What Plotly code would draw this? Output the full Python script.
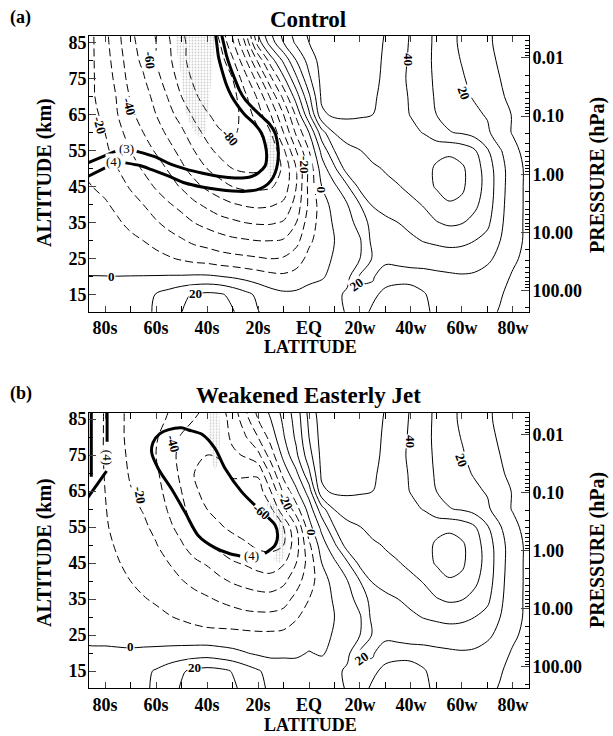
import numpy as np
import plotly.graph_objects as go

# ---------------- data ----------------
alt_km = [10, 15, 20, 25, 30, 35, 40, 45, 50, 55, 60, 65, 70, 75, 80, 85, 90]
lat_sh = [-90, -85, -80, -75, -70, -65, -60, -55, -50, -45, -40, -35, -30, -25, -20, -15, -10, -5, 0]
lat_nh = [5, 10, 15, 20, 25, 30, 35, 40, 45, 50, 55, 60, 65, 70, 75, 80, 85, 90]

# zonal wind (m/s), southern part, Control run (rows = alt_km)
u_sh_control = [
    [1, 1.5, 2, 3, 5, 8, 11, 15, 20, 24, 26, 24, 21, 15, 10.5, 7, 5, 5, 6],
    [2, 2, 2.5, 3.5, 5, 7, 10.5, 14, 18, 21, 22.5, 21.5, 17.5, 13, 8, 4, 2, 2, 4],
    [0.1, 0.1, 0.1, 0.1, 0.2, 0.3, 0.5, 0.8, 1, 1.5, 1.5, 0.5, -1, -3, -5, -7, -8, -6, -3],
    [-1, -1.5, -2, -3, -4, -5, -7, -9, -11, -13, -14, -16, -17, -18, -19, -20, -19, -15, -7],
    [-3, -4, -5, -6, -8, -10, -13, -16, -19, -22, -24, -26, -28, -29, -30, -30, -29, -23, -12],
    [-5, -6, -7, -9, -12, -15, -19, -23, -26, -30, -33, -36, -38, -40, -41, -41, -39, -30, -15],
    [-7, -8, -9, -12, -16, -20, -25, -29, -33, -38, -42, -46, -49, -51, -52, -51, -48, -36, -18],
    [-9, -10, -12, -16, -21, -26, -31, -36, -41, -47, -52, -56, -60, -62, -62, -61, -56, -40, -17],
    [-10, -12, -15, -20, -26, -31, -36, -41, -48, -54, -60, -65, -70, -72, -72, -68, -58, -40, -17],
    [-11, -15, -18, -24, -30, -36, -41, -47, -53, -60, -67, -73, -77, -78, -75, -68, -52, -30, -10],
    [-12, -17, -20, -27, -34, -40, -46, -52, -58, -66, -73, -79, -81, -78, -72, -60, -40, -18, 0],
    [-12, -18, -22, -30, -38, -44, -50, -57, -64, -72, -79, -84, -84, -76, -65, -50, -30, -8, 18],
    [-13, -19, -24, -31, -41, -46, -53, -61, -70, -78, -85, -88, -84, -72, -58, -38, -17, 5, 28],
    [-14, -19, -25, -33, -44, -49, -57, -65, -74, -82, -88, -88, -80, -64, -45, -22, -2, 18, 38],
    [-15, -19, -26, -35, -46, -52, -60, -68, -77, -85, -88, -85, -72, -52, -28, -5, 12, 30, 44],
    [-15, -19, -27, -37, -48, -53, -60, -69, -78, -84, -86, -80, -62, -39, -5, 15, 30, 42, 50],
    [-15, -19, -28, -38, -49, -55, -62, -71, -80, -85, -85, -76, -55, -30, 5, 22, 35, 45, 53],
]

# zonal wind (m/s), southern part, Weakened Easterly Jet run
u_sh_weak = [
    [1, 1.5, 2, 3, 5, 8, 12, 16, 21, 25, 27, 25, 22, 17, 13, 8, 5, 4, 5],
    [2, 2, 2.5, 3.5, 5, 7.5, 11, 15, 19, 22, 23.5, 22.5, 19.5, 15, 11, 6.5, 4, 4, 5],
    [1, 1, 1, 1, 1, 1.5, 2, 3, 4, 5, 5.5, 4, 2.5, 0.5, -1.5, -2.5, -1.5, -1.5, 0.5],
    [-1, -1.5, -1.5, -2, -2.5, -3, -3.5, -4.5, -5.5, -6.5, -7, -7, -7, -7.5, -8, -8, -7.5, -5, -4],
    [-2, -3, -4, -5, -6, -7, -8, -9.5, -11, -12.5, -14, -15, -16, -17, -17.5, -17.5, -16, -11, -6],
    [-2.5, -3.5, -5, -6.5, -8, -9.5, -11, -13, -15, -17, -19, -21, -23, -25, -26, -26, -24, -17, -10],
    [-3, -4, -6, -8, -10, -12, -14, -16.5, -19.5, -22.5, -24.5, -28, -31, -33, -35, -36, -32, -24, -14],
    [-3, -4.5, -7, -9.5, -12, -14, -16.5, -20, -24, -28, -31, -35, -39, -41, -44, -45, -41, -30, -16],
    [-3.5, -5, -8, -11, -14, -16.5, -19.5, -24, -29, -35, -39, -43, -46, -48.5, -52, -53, -50, -34, -12],
    [-3.5, -5, -9, -12.5, -16, -18.5, -22, -28, -33.5, -41.5, -46, -49, -52, -55, -58, -60, -50, -30, -4],
    [-3.5, -5, -9.5, -14, -18, -20.5, -24.5, -31, -37, -46, -50, -53, -56, -59, -60, -52, -32, -14, 4],
    [-3.5, -5, -10, -15, -19.5, -22.5, -27, -33, -40, -49, -52, -55, -55, -56, -56, -40, -18, -2, 15],
    [-3, -4.5, -10.5, -16, -21, -24.5, -28.5, -35, -42, -50, -52, -53, -48, -48, -48, -28, -6, 8, 28],
    [-3, -4, -11, -16.5, -22, -26, -30, -36, -43, -49, -50, -49, -42, -39, -33, -15, 3, 18, 36],
    [-2.5, -3.5, -11, -17, -23, -27, -29, -35, -41, -45, -45, -46, -38, -31, -20, -6, 9, 22, 40],
    [-2, -3, -11, -17, -23, -27, -27, -31, -36, -40, -42, -44, -37, -24, -10, 0, 12, 24, 42],
    [-2, -3, -11, -17, -23, -27, -26, -29, -34, -38, -40, -42, -34, -18, -4, 5, 15, 26, 45],
]

# zonal wind (m/s), northern part (same in both runs)
u_nh = [
    [6, 7, 10.8, 17, 21.5, 24.5, 26, 25, 21.5, 18.5, 17, 15.5, 14, 11.5, 9.5, 7, 5.5, 5],
    [5, 7, 12, 17.5, 18.5, 22, 24, 23, 20.5, 18, 16.5, 15.5, 14.5, 13, 10.5, 8, 6, 5],
    [-1, 3, 7, 21.5, 20.5, 17, 17, 17.5, 17.5, 18, 18.5, 19, 18.5, 16, 13, 9, 7, 6],
    [-3, 1, 5, 10, 21, 21.5, 22, 22.5, 23, 24, 25, 25.5, 24.5, 22, 17, 11.5, 8, 7],
    [-5, 0, 4, 9, 23, 25, 26.5, 28, 30.5, 32, 33, 32, 30, 27, 20, 13, 9, 7],
    [-6, 1.5, 6, 14, 24, 27.5, 30, 33, 37, 39.5, 41.5, 40.5, 37, 32, 22, 13.5, 9, 7],
    [-5, 4, 9.5, 20, 31, 34, 36.5, 38, 40.5, 45, 49, 48, 42, 35, 23, 14, 9, 7],
    [0, 8, 18.5, 33, 37, 38.5, 39.5, 42, 46, 51, 54, 51.5, 45, 36, 24, 14, 9, 7],
    [5, 18, 35, 38, 39, 40.5, 43, 45, 47.5, 51, 54, 51.5, 45, 35, 24, 14, 9, 7],
    [13, 30, 37.5, 39.8, 42, 44, 45.5, 46.5, 47, 48, 48, 46, 41, 31, 21, 12, 8, 6.5],
    [26, 40.5, 44, 45.5, 46, 45.5, 44.5, 42.5, 39.5, 33, 30.5, 29, 26, 22, 13, 9.5, 7.5, 6],
    [48, 52, 52, 51, 50, 47, 43.5, 39.5, 34, 30, 27, 24.5, 22, 19, 13, 9.5, 7, 5.5],
    [52, 54, 54, 54, 51.5, 47, 43, 39, 33.5, 29, 25.5, 22.5, 19, 15, 11, 8, 6, 5],
    [53, 55, 55.5, 55, 52.5, 48, 43, 38, 33, 28.5, 24, 21, 17, 13, 10, 7.5, 5.5, 4.5],
    [54, 56, 56.5, 56, 53, 48.5, 43.5, 38.5, 33, 28, 23.5, 19.5, 16, 12, 9, 7, 5, 4],
    [55, 57, 57.5, 57, 54, 49, 44, 39, 33.5, 28, 22.5, 18.5, 15, 11, 8.5, 6.5, 5, 4],
    [57, 58, 58.5, 58, 55, 50, 45, 39.5, 34, 28, 23, 18.5, 15, 11, 8.5, 6.5, 5, 4],
]

lat_ticks = [-80, -60, -40, -20, 0, 20, 40, 60, 80]
lat_labels = ["80s", "60s", "40s", "20s", "EQ", "20w", "40w", "60w", "80w"]
lat_minor = [-70, -50, -30, -10, 10, 30, 50, 70]
alt_ticks = [15, 25, 35, 45, 55, 65, 75, 85]
alt_minor = [20, 30, 40, 50, 60, 70, 80]
p_ticks = [0.01, 0.1, 1, 10, 100]
p_labels = ["0.01", "0.10", "1.00", "10.00", "100.00"]
p_minor = [m * d for d in [0.001, 0.01, 0.1, 1, 10, 100] for m in range(2, 10)]

# altitude of the 100 hPa level and km per pressure decade (axis mapping)
Z100_KM = 16.2
KM_PER_DECADE = 16.125

# critical lines (lat, alt) for zonal wavenumbers 3 and 4
crit3_a1_lat = [-88, -76]
crit3_a1_alt = [51.2, 54.8]
crit3_a2_lat = [-67.6, -60, -55.2, -48, -42.1, -35, -29, -23.5, -19.9, -17.2, -16.6, -17.2, -18.6,
                -21.5, -25.1, -28, -30.3, -32.5, -34.2, -35.5, -36.2, -36.8]
crit3_a2_alt = [54.8, 53.2, 51.5, 49.8, 48.8, 47.8, 47.4, 47.6, 48.8, 50.8, 53.4, 56.8, 59.8,
                62.5, 64.9, 67.5, 70, 73.5, 77.4, 81, 84.8, 88]
crit4_a1_lat = [-88, -80]
crit4_a1_alt = [47.4, 50.2]
crit4_a2_lat = [-72, -66, -61.7, -55, -48.6, -42, -35.6, -30, -25.1, -20.5, -17.3, -15, -13.3, -12.3,
                -12, -12.4, -13.3, -15.5, -18.6, -22, -25.1, -27.3, -29, -30.8, -32.3, -33.4, -34.2, -34.6]
crit4_a2_alt = [51.6, 50.8, 49.7, 47.9, 46, 44.9, 44.2, 43.8, 43.7, 44.1, 45.1, 46.6, 48.8, 51.5,
                54.4, 57.2, 59.9, 62.4, 64.5, 66.8, 69.2, 71.8, 74.7, 78, 81.2, 84.5, 87, 89]
crit4_b1_lat = [-27, -31, -37, -43.4, -48.6, -53.9, -59, -61.7, -61.2, -58.5, -55, -50, -47.3, -42,
                -36.9, -32.9, -26.4, -18.6, -13.3, -12.3, -13.3, -17.3]
crit4_b1_alt = [47, 47.6, 49.3, 52.6, 59.1, 65.6, 71.1, 75.7, 78.5, 81, 82.1, 82.6, 82, 80.8,
                76.9, 71.3, 64.8, 59.3, 55.6, 52.8, 50, 47.7]
crit4_b2_lat = [-79.2, -79.2]
crit4_b2_alt = [88, 78.7]
crit4_b3_lat = [-79.4, -81.5, -84, -87]
crit4_b3_alt = [70.6, 68.5, 66, 63]
crit4_b4_lat = [-85.4, -85.4]
crit4_b4_alt = [88, 69]

# stippled regions
stip_a1_lat = [-52.5, -37, -37.5, -38.2, -39.5, -40.8, -42.5, -44.7, -47, -48.6, -49.9, -51.5]
stip_a1_alt = [87.5, 87.5, 81, 75.3, 66, 59.9, 58.5, 59.9, 63, 66, 75.3, 81]
stip_a2_lat = [-15.5, -13, -12, -12, -13, -15.5, -16.5, -16.5]
stip_a2_alt = [47, 48.5, 52, 56, 59.5, 61.5, 57, 51]
stip_b1_lat = [-39, -35.3, -34.8, -35.5, -37, -38.3, -39.2]
stip_b1_alt = [87.5, 87.5, 80, 73, 70.5, 74, 81]
stip_b2_lat = [-16, -12.5, -9.5, -9, -9.5, -11.5, -14, -12.5, -11.3, -12.3, -15, -17.5]
stip_b2_alt = [62, 61, 57, 52, 47, 45, 46, 49.5, 53, 56.5, 59, 60.5]

# contour labels: (lat, alt, text, angle)
labels_a = [(-62.4, 80, "-60", 85), (-70.4, 67.3, "-40", 75), (-82, 62, "-20", 75),
            (-31, 58.5, "-80", 50), (-1.6, 51, "-20", 90), (5, 44, "0", 90),
            (-77.4, 20.1, "0", 0), (-44.7, 15.3, "20", 0), (18.7, 17.8, "20", -35),
            (39, 80.3, "40", 90), (60.5, 71, "20", 70)]
labels_b = [(-53.2, 78.3, "-40", 75), (-66.3, 63.8, "-20", 80), (-9.4, 62.3, "-20", 65),
            (-18.6, 59.4, "-60", 40), (1, 53.5, "0", 90), (-70.2, 21.9, "0", 0),
            (-45, 16.1, "20", 0), (20.7, 18.5, "20", -35), (39.6, 78.7, "40", 90),
            (59.9, 73.6, "20", 70)]
crit_labels_a = [(-71.5, 55.5, "(3)", 0), (-76.7, 52, "(4)", 0)]
crit_labels_b = [(-79.2, 74.5, "(4)", 90), (-22.5, 47, "(4)", 0)]

# ---------------- figure ----------------
lat = lat_sh + lat_nh
FONT = "Liberation Serif"
YR = [10.3, 86.8]
XR = [-86.3, 86.3]


def p_to_alt(p):
    return [Z100_KM + KM_PER_DECADE * np.log10(100.0 / v) for v in p]


fig = go.Figure()
panels = [("x", "y", "y3", u_sh_control), ("x2", "y2", "y4", u_sh_weak)]
for xa, ya, yr, sh in panels:
    z = [list(s) + list(n) for s, n in zip(sh, u_nh)]
    fig.add_trace(go.Contour(x=lat, y=alt_km, z=z, xaxis=xa, yaxis=ya, autocontour=False,
                             contours=dict(start=-90, end=-10, size=10, coloring="none"),
                             line=dict(color="black", width=1, dash="8px,4px", smoothing=1),
                             showscale=False, hoverinfo="skip"))
    fig.add_trace(go.Contour(x=lat, y=alt_km, z=z, xaxis=xa, yaxis=ya, autocontour=False,
                             contours=dict(start=0, end=60, size=10, coloring="none"),
                             line=dict(color="black", width=1, smoothing=1),
                             showscale=False, hoverinfo="skip"))
    fig.add_trace(go.Scatter(x=[0], y=[50], xaxis=xa, yaxis=yr, mode="markers",
                             marker=dict(opacity=0), hoverinfo="skip", showlegend=False))


def stipple(lx, ly, xa, ya):
    fig.add_trace(go.Scatter(x=lx, y=ly, xaxis=xa, yaxis=ya, mode="lines", fill="toself",
                             line=dict(width=0, color="rgba(0,0,0,0)"),
                             fillcolor="rgba(0,0,0,0)",
                             fillpattern=dict(shape=".", size=3, solidity=0.28,
                                              fgcolor="#999999", bgcolor="rgba(0,0,0,0)"),
                             hoverinfo="skip", showlegend=False))


stipple(stip_a1_lat, stip_a1_alt, "x", "y")
stipple(stip_a2_lat, stip_a2_alt, "x", "y")
stipple(stip_b1_lat, stip_b1_alt, "x2", "y2")
stipple(stip_b2_lat, stip_b2_alt, "x2", "y2")


def thick(lx, ly, xa, ya):
    fig.add_trace(go.Scatter(x=lx, y=ly, xaxis=xa, yaxis=ya, mode="lines",
                             line=dict(color="black", width=3, shape="spline", smoothing=0.8),
                             hoverinfo="skip", showlegend=False))


thick(crit3_a1_lat, crit3_a1_alt, "x", "y")
thick(crit3_a2_lat, crit3_a2_alt, "x", "y")
thick(crit4_a1_lat, crit4_a1_alt, "x", "y")
thick(crit4_a2_lat, crit4_a2_alt, "x", "y")
thick(crit4_b1_lat, crit4_b1_alt, "x2", "y2")
thick(crit4_b2_lat, crit4_b2_alt, "x2", "y2")
thick(crit4_b3_lat, crit4_b3_alt, "x2", "y2")
thick(crit4_b4_lat, crit4_b4_alt, "x2", "y2")

ann = []
for labs, xr, yr in [(labels_a, "x", "y"), (labels_b, "x2", "y2")]:
    for lx, ly, t, ang in labs:
        ann.append(dict(x=lx, y=ly, xref=xr, yref=yr, text=t, showarrow=False, textangle=ang,
                        font=dict(family=FONT, size=13, color="black", weight="bold"),
                        bgcolor="white", borderpad=0))
for labs, xr, yr in [(crit_labels_a, "x", "y"), (crit_labels_b, "x2", "y2")]:
    for lx, ly, t, ang in labs:
        ann.append(dict(x=lx, y=ly, xref=xr, yref=yr, text=t, showarrow=False, textangle=ang,
                        font=dict(family=FONT, size=13, color="black"),
                        bgcolor="white", borderpad=0))

# text placed in paper coordinates
PW, PH, L, T = 440.0, 652.0, 89.0, 36.0


def px(xp, yp):
    return (xp - L) / PW, (T + PH - yp) / PH


def txt(xp, yp, t, size, angle=0, xanchor="center"):
    x, y = px(xp, yp)
    ann.append(dict(x=x, y=y, xref="paper", yref="paper", text=t, showarrow=False,
                    textangle=angle, xanchor=xanchor, yanchor="middle",
                    font=dict(family=FONT, size=size, color="black", weight="bold")))


txt(8, 18, "(a)", 18, xanchor="left")
txt(308, 19, "Control", 23)
txt(8, 393, "(b)", 18, xanchor="left")
txt(308, 396, "Weakened Easterly Jet", 23)
txt(310, 347, "LATITUDE", 18)
txt(310, 725, "LATITUDE", 18)
txt(44, 173, "ALTITUDE (km)", 20, angle=-90)
txt(44, 553, "ALTITUDE (km)", 20, angle=-90)
txt(597, 175, "PRESSURE (hPa)", 20, angle=-90)
txt(597, 550, "PRESSURE (hPa)", 20, angle=-90)

tickfont = dict(family=FONT, size=18, color="black", weight="bold")
xax = dict(range=XR, tickvals=lat_ticks, ticktext=lat_labels, ticks="inside", ticklen=6,
           tickwidth=1, showline=True, linecolor="black", linewidth=1, mirror="allticks",
           showgrid=False, zeroline=False, tickfont=tickfont, ticklabelstandoff=0,
           minor=dict(tickvals=lat_minor, ticks="inside", ticklen=6, tickcolor="black"))
yax = dict(range=YR, tickvals=alt_ticks, ticks="inside", ticklen=7, tickwidth=1,
           showline=True, linecolor="black", linewidth=1, showgrid=False, zeroline=False,
           tickfont=tickfont, ticklabelstandoff=-2,
           minor=dict(tickvals=alt_minor, ticks="inside", ticklen=4, tickcolor="black"))
pax = dict(range=YR, tickvals=p_to_alt(p_ticks), ticktext=p_labels, ticks="inside", ticklen=8,
           tickwidth=1, showline=True, linecolor="black", linewidth=1, showgrid=False,
           zeroline=False, side="right", tickfont=tickfont, ticklabelstandoff=-1,
           minor=dict(tickvals=p_to_alt(p_minor), ticks="inside", ticklen=4, tickcolor="black"))

top_dom = [1 - 275.7 / PH, 1.0]
bot_dom = [0.0, (T + PH - 412.7) / PH]

fig.update_layout(
    width=613, height=736, margin=dict(l=89, r=84, t=36, b=48),
    paper_bgcolor="white", plot_bgcolor="white", showlegend=False,
    font=dict(family=FONT, color="black"),
    xaxis=dict(xax, domain=[0, 1], anchor="y"),
    xaxis2=dict(xax, domain=[0, 1], anchor="y2"),
    yaxis=dict(yax, domain=top_dom, anchor="x"),
    yaxis2=dict(yax, domain=bot_dom, anchor="x2"),
    yaxis3=dict(pax, overlaying="y", anchor="x"),
    yaxis4=dict(pax, overlaying="y2", anchor="x2"),
    annotations=ann,
)

fig.write_html("out.html", config={"displayModeBar": False},
               post_script="document.body.style.margin='0px';")
